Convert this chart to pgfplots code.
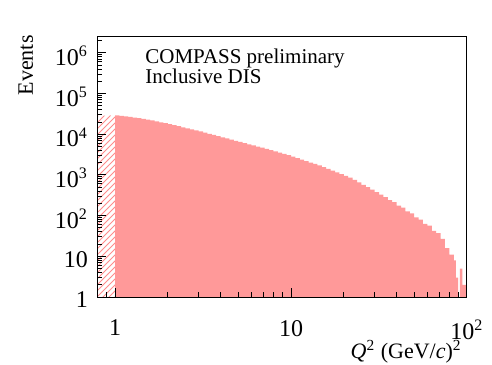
\documentclass[border=0pt]{standalone}
\usepackage{fontspec}
\setmainfont{Liberation Serif}
\usepackage{pgfplots}
\usepackage{pgfplotstable}
\pgfplotsset{compat=1.18}
\usetikzlibrary{patterns}

\definecolor{histpink}{RGB}{255,153,153}
\definecolor{hatchpink}{RGB}{255,140,140}

% Q^2 bin low edge, events (excluded region Q^2 < 1)
\pgfplotstableread{
q2      n
0.7943  28400
0.8414  28900
0.8913  29100
0.9441  28700
1.0000  28700
}\hatchdata

% Q^2 bin low edge, events
\pgfplotstableread{
q2      n
1.0000  29100
1.0593  28250
1.1220  27470
1.1885  26680
1.2589  25780
1.3335  24760
1.4125  23790
1.4962  22840
1.5849  21810
1.6788  20720
1.7783  19670
1.8836  18680
1.9953  17720
2.1135  16710
2.2387  15750
2.3714  14860
2.5119  14010
2.6607  13210
2.8184  12460
2.9854  11700
3.1623  10950
3.3497  10250
3.5481  9605
3.7584  8995
3.9811  8425
4.2170  7890
4.4668  7390
4.7315  6920
5.0119  6480
5.3088  6070
5.6234  5680
5.9566  5320
6.3096  4985
6.6834  4670
7.0795  4350
7.4989  4055
7.9433  3775
8.4140  3518
8.9125  3278
9.4406  3053
10.000  2830
10.593  2602
11.220  2392
11.885  2199
12.589  2022
13.335  1859
14.125  1708
14.962  1547
15.849  1402
16.788  1271
17.783  1152
18.836  1043
19.953  946
21.135  857
22.387  755
23.714  658
25.119  573
26.607  499
28.184  434
29.854  378
31.623  330
33.497  287
35.481  240
37.584  214
39.811  176
42.170  158
44.668  128
47.315  114
50.119  90
53.088  80
56.234  63
59.566  57
63.096  42
66.834  37
70.795  27
74.989  16
79.433  11
84.140  8
86.500  3
89.000  1
91.000  5
94.000  2
100.00  2
}\maindata

\begin{document}
\begin{tikzpicture}[font=\fontsize{11}{13}\selectfont]
\useasboundingbox (-48.5pt,-33.5pt) rectangle (197.5pt,148.5pt);
\begin{axis}[
    at={(0pt,0pt)}, anchor=south west,
    scale only axis, width=185pt, height=130.5pt,
    xmode=log, ymode=log, log origin y=infty,
    xmin=0.79, xmax=100, ymin=1, ymax=2.6e6,
    axis on top,
    axis line style={black, line width=0.5pt},
    tick align=inside, tick pos=left,
    major tick length=4.5pt, minor tick length=2.5pt,
    every tick/.style={black, line width=0.5pt},
    ticklabel style={font=\fontsize{12}{14}\selectfont},
    xtick={1,10,100},
    xticklabels={1,10,10\textsuperscript{2}},
    minor xtick={0.8,0.9,2,3,4,5,6,7,8,9,20,30,40,50,60,70,80,90},
    ytick={1,10,100,1000,10000,100000,1000000},
    yticklabels={1,10,10\textsuperscript{2},10\textsuperscript{3},10\textsuperscript{4},10\textsuperscript{5},10\textsuperscript{6}},
    minor ytick={2,3,4,5,6,7,8,9,20,30,40,50,60,70,80,90,
        200,300,400,500,600,700,800,900,2000,3000,4000,5000,6000,7000,8000,9000,
        20000,30000,40000,50000,60000,70000,80000,90000,
        200000,300000,400000,500000,600000,700000,800000,900000,2000000},
    xticklabel style={yshift=-8pt},
    yticklabel style={xshift=-1pt, yshift=-1.5pt},
]
\addplot[const plot, draw=none, pattern=north east lines, pattern color=hatchpink]
    table[x=q2, y=n] {\hatchdata} \closedcycle;
\addplot[const plot, draw=none, fill=histpink]
    table[x=q2, y=n] {\maindata} \closedcycle;
\end{axis}

\begin{scope}[font=\fontsize{10.5}{12}\selectfont]
\node[anchor=base west, inner sep=0pt] at (24pt,116.5pt) {COMPASS preliminary};
\node[anchor=base west, inner sep=0pt] at (24pt,106.5pt) {Inclusive DIS};
\end{scope}
\node[anchor=base east, inner sep=0pt, font=\fontsize{11}{13}\selectfont] at (182.5pt,-30.5pt)
    {\textit{Q}\textsuperscript{2} (GeV/\textit{c})\textsuperscript{2}};
\node[rotate=90, anchor=base east, inner sep=0pt] at (-32pt,131pt) {Events};
\end{tikzpicture}
\end{document}
